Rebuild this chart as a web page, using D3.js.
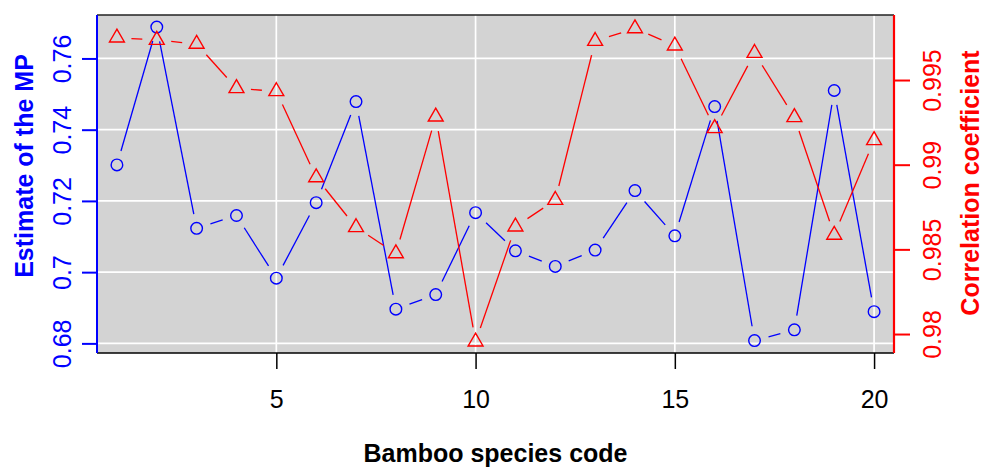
<!DOCTYPE html>
<html>
<head>
<meta charset="utf-8">
<script src="https://cdn.jsdelivr.net/npm/d3@7"></script>
<style>
  html, body { margin: 0; padding: 0; background: #ffffff; }
  svg { display: block; font-family: "Liberation Sans", Arial, sans-serif; }
</style>
</head>
<body>
<svg id="chart" width="983" height="468"></svg>
<script>
// Bamboo species codes and the two measured series
const species = [1, 2, 3, 4, 5, 6, 7, 8, 9, 10, 11, 12, 13, 14, 15, 16, 17, 18, 19, 20];
const mpEstimate = [0.7301, 0.7688, 0.7123, 0.7159, 0.6983, 0.7195, 0.7479, 0.6896, 0.6937, 0.7167,
                    0.7060, 0.7016, 0.7062, 0.7229, 0.7102, 0.7465, 0.6808, 0.6838, 0.7510, 0.6889];
const correlation = [0.99750, 0.99736, 0.99713, 0.99451, 0.99433, 0.98925, 0.98630, 0.98476, 0.99283, 0.97955,
                     0.98634, 0.98791, 0.99730, 0.99805, 0.99703, 0.99215, 0.99659, 0.99280, 0.98585, 0.99144];

// Axis ticks
const xTicks = [5, 10, 15, 20];
const mpTicks = [0.68, 0.70, 0.72, 0.74, 0.76];
const corrTicks = [0.980, 0.985, 0.990, 0.995];

// Plot region
const plot = { left: 97, right: 894, top: 15, bottom: 353 };
const BLUE = "#0000ff", RED = "#ff0000";
const FONT = 25;

const svg = d3.select("#chart");

const x = d3.scaleLinear().domain([0.5, 20.5]).range([plot.left, plot.right]);
const yMP = d3.scaleLinear().domain([0.6773, 0.7722]).range([plot.bottom, plot.top]);
const yCorr = d3.scaleLinear().domain([0.97888, 0.99884]).range([plot.bottom, plot.top]);

// Grey panel
svg.append("rect")
  .attr("x", plot.left).attr("y", plot.top)
  .attr("width", plot.right - plot.left).attr("height", plot.bottom - plot.top)
  .attr("fill", "#d3d3d3");

// White grid lines at the x ticks and the left-axis ticks
const grid = svg.append("g").attr("stroke", "#ffffff").attr("stroke-width", 1.7);
grid.selectAll("line.v").data(xTicks).join("line").attr("class", "v")
  .attr("x1", d => x(d)).attr("x2", d => x(d))
  .attr("y1", plot.top).attr("y2", plot.bottom);
grid.selectAll("line.h").data(mpTicks).join("line").attr("class", "h")
  .attr("x1", plot.left).attr("x2", plot.right)
  .attr("y1", d => yMP(d)).attr("y2", d => yMP(d));

// Line segments with gaps around each marker (points-and-lines style)
const GAP = 14.5;
function gappedSegments(pts) {
  const segs = [];
  for (let i = 0; i < pts.length - 1; i++) {
    const [x0, y0] = pts[i], [x1, y1] = pts[i + 1];
    const dx = x1 - x0, dy = y1 - y0, len = Math.hypot(dx, dy);
    if (len <= 2 * GAP) continue;
    const ux = dx / len, uy = dy / len;
    segs.push([x0 + ux * GAP, y0 + uy * GAP, x1 - ux * GAP, y1 - uy * GAP]);
  }
  return segs;
}

function drawSeries(values, yScale, color, shape) {
  const pts = species.map((s, i) => [x(s), yScale(values[i])]);
  const g = svg.append("g");
  g.selectAll("line").data(gappedSegments(pts)).join("line")
    .attr("x1", d => d[0]).attr("y1", d => d[1])
    .attr("x2", d => d[2]).attr("y2", d => d[3])
    .attr("stroke", color).attr("stroke-width", 1.3);
  if (shape === "circle") {
    g.selectAll("circle").data(pts).join("circle")
      .attr("cx", d => d[0]).attr("cy", d => d[1]).attr("r", 5.8)
      .attr("fill", "none").attr("stroke", color).attr("stroke-width", 1.4);
  } else {
    const r = 8.6, hx = r * Math.sqrt(3) / 2;
    g.selectAll("path").data(pts).join("path")
      .attr("d", d => `M${d[0]},${d[1] - r}L${d[0] + hx},${d[1] + r / 2}L${d[0] - hx},${d[1] + r / 2}Z`)
      .attr("fill", "none").attr("stroke", color).attr("stroke-width", 1.4)
      .attr("stroke-linejoin", "miter");
  }
}

drawSeries(mpEstimate, yMP, BLUE, "circle");
drawSeries(correlation, yCorr, RED, "triangle");

// Frame: black top and bottom, coloured sides for the two y axes
svg.append("line").attr("x1", plot.left).attr("x2", plot.right).attr("y1", plot.top).attr("y2", plot.top)
  .attr("stroke", "#222").attr("stroke-width", 1.6);
svg.append("line").attr("x1", plot.left).attr("x2", plot.right).attr("y1", plot.bottom).attr("y2", plot.bottom)
  .attr("stroke", "#000").attr("stroke-width", 1.6);

// Bottom axis
const xAxis = svg.append("g")
  .attr("transform", `translate(0,${plot.bottom})`)
  .call(d3.axisBottom(x).tickValues(xTicks).tickSize(16).tickFormat(d3.format("d")));
xAxis.select(".domain").remove();
xAxis.selectAll(".tick line").attr("stroke", "#000").attr("stroke-width", 1.5);
xAxis.selectAll(".tick text")
  .attr("y", 55).attr("dy", 0)
  .attr("fill", "#000").attr("font-size", FONT).attr("font-family", "Liberation Sans, Arial, sans-serif");

// Left axis (MP estimate)
const leftAxis = svg.append("g")
  .attr("transform", `translate(${plot.left},0)`)
  .call(d3.axisLeft(yMP).tickValues(mpTicks).tickSize(15).tickFormat(d => String(d)));
leftAxis.select(".domain").remove();
leftAxis.selectAll(".tick line").attr("stroke", BLUE).attr("stroke-width", 2);
leftAxis.selectAll(".tick text")
  .attr("x", null).attr("dy", 0).attr("text-anchor", "middle")
  .attr("transform", "translate(-26,0) rotate(-90)")
  .attr("fill", BLUE).attr("font-size", FONT).attr("font-family", "Liberation Sans, Arial, sans-serif");
svg.append("line").attr("x1", plot.left).attr("x2", plot.left).attr("y1", plot.top).attr("y2", plot.bottom)
  .attr("stroke", BLUE).attr("stroke-width", 2);

// Right axis (correlation coefficient)
const rightAxis = svg.append("g")
  .attr("transform", `translate(${plot.right},0)`)
  .call(d3.axisRight(yCorr).tickValues(corrTicks).tickSize(16).tickFormat(d => String(d)));
rightAxis.select(".domain").remove();
rightAxis.selectAll(".tick line").attr("stroke", RED).attr("stroke-width", 2);
rightAxis.selectAll(".tick text")
  .attr("x", null).attr("dy", 0).attr("text-anchor", "middle")
  .attr("transform", "translate(47,0) rotate(-90)")
  .attr("fill", RED).attr("font-size", FONT).attr("font-family", "Liberation Sans, Arial, sans-serif");
svg.append("line").attr("x1", plot.right).attr("x2", plot.right).attr("y1", plot.top).attr("y2", plot.bottom)
  .attr("stroke", RED).attr("stroke-width", 2.2);

// Axis titles
svg.append("text")
  .attr("transform", "translate(33,166) rotate(-90)")
  .attr("text-anchor", "middle").attr("font-weight", "bold").attr("font-size", FONT)
  .attr("fill", BLUE).text("Estimate of the MP");
svg.append("text")
  .attr("transform", "translate(979,183) rotate(-90)")
  .attr("text-anchor", "middle").attr("font-weight", "bold").attr("font-size", FONT)
  .attr("fill", RED).text("Correlation coefficient");
svg.append("text")
  .attr("x", (plot.left + plot.right) / 2).attr("y", 462)
  .attr("text-anchor", "middle").attr("font-weight", "bold").attr("font-size", FONT)
  .attr("fill", "#000").text("Bamboo species code");
</script>
</body>
</html>
